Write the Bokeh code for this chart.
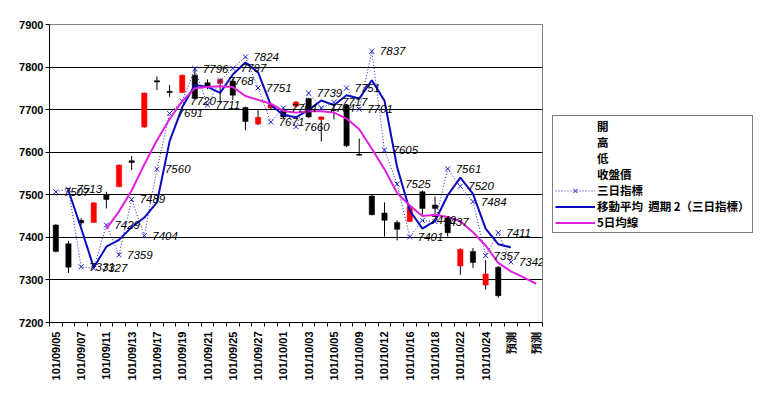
import numpy as np
from bokeh.plotting import figure
from bokeh.layouts import row
from bokeh.models import ColumnDataSource, FixedTicker, Legend, LegendItem, Range1d
from bokeh.core.properties import value
from bokeh.embed import file_html
from bokeh.resources import INLINE

# ---------------- data ----------------
dates = ["101/09/05", "101/09/06", "101/09/07", "101/09/10", "101/09/11", "101/09/12",
         "101/09/13", "101/09/14", "101/09/17", "101/09/18", "101/09/19", "101/09/20",
         "101/09/21", "101/09/24", "101/09/25", "101/09/26", "101/09/27", "101/09/28",
         "101/10/01", "101/10/02", "101/10/03", "101/10/04", "101/10/05", "101/10/08",
         "101/10/09", "101/10/11", "101/10/12", "101/10/15", "101/10/16", "101/10/17",
         "101/10/18", "101/10/19", "101/10/22", "101/10/23", "101/10/24", "101/10/25",
         "預測", "預測", "預測"]

opens = [7429, 7385, 7440, 7435, 7501, 7519, 7580, 7659, 7768, 7743, 7740, 7781,
         7763, 7762, 7767, 7705, 7666, 7704, 7699, 7708, 7726, 7677, 7700, 7711,
         7595, 7497, 7457, 7435, 7437, 7507, 7476, 7445, 7333, 7367, 7288, 7330]
highs = [7431, 7392, 7445, 7482, 7507, 7571, 7591, 7740, 7778, 7758, 7782, 7797,
         7771, 7773, 7773, 7707, 7701, 7716, 7702, 7720, 7728, 7684, 7714, 7713,
         7632, 7500, 7482, 7440, 7475, 7510, 7496, 7447, 7374, 7375, 7347, 7332]
lows = [7365, 7316, 7428, 7434, 7468, 7518, 7558, 7658, 7746, 7730, 7739, 7724,
        7748, 7715, 7722, 7652, 7664, 7700, 7680, 7705, 7680, 7625, 7677, 7612,
        7592, 7452, 7402, 7393, 7436, 7453, 7449, 7402, 7312, 7328, 7277, 7258]
closes = [7367, 7330, 7434, 7481, 7489, 7570, 7576, 7739, 7765, 7740, 7781, 7726,
          7755, 7771, 7734, 7672, 7682, 7712, 7683, 7718, 7683, 7683, 7698, 7615,
          7593, 7453, 7440, 7419, 7472, 7468, 7468, 7411, 7372, 7341, 7314, 7263]

# 三日指標 (categories 1..37)
ind3 = [7507, 7513, 7331, 7327, 7429, 7359, 7489, 7404, 7560, 7691, 7720, 7796,
        7711, 7768, 7797, 7824, 7751, 7671, 7704, 7660, 7739, 7704, 7717, 7751,
        7701, 7837, 7605, 7525, 7401, 7440, 7437, 7561, 7520, 7484, 7357, 7411, 7342]

# 移動平均 週期 2 (三日指標) (categories 2..37)
ma2 = [7510, 7422, 7329, 7378, 7394, 7424, 7446.5, 7482, 7625.5, 7705.5, 7758,
       7753.5, 7739.5, 7782.5, 7810.5, 7787.5, 7711, 7687.5, 7682, 7699.5, 7721.5,
       7710.5, 7734, 7726, 7769, 7721, 7565, 7463, 7420.5, 7438.5, 7499, 7540.5,
       7502, 7420.5, 7384, 7376.5]

# 5日均線 (categories 5..39)
ma5 = [7420, 7461, 7510, 7571, 7628, 7678, 7720, 7750, 7753, 7755, 7753, 7732,
       7723, 7714, 7697, 7693, 7696, 7696, 7693, 7679, 7654, 7608, 7560, 7504,
       7475, 7450, 7453, 7448, 7438, 7412, 7381, 7340, 7320, 7306, 7291]

y_ticks = [7200, 7300, 7400, 7500, 7600, 7700, 7800, 7900]

legend_labels = ["開", "高", "低", "收盤價", "三日指標",
                 "移動平均  週期 2（三日指標）", "5日均線"]

# styles
IND_COLOR = "#2020D0"
MA2_COLOR = "#0A0ABE"
MA5_COLOR = "#E020E0"

# ---------------- main figure ----------------
n = len(dates)
p = figure(width=543, height=398, output_backend="svg", toolbar_location=None,
           x_range=Range1d(0.5, n + 0.5), y_range=Range1d(y_ticks[0], y_ticks[-1]),
           min_border_left=49, min_border_right=1, min_border_top=24,
           min_border_bottom=76)
p.background_fill_color = "white"
p.border_fill_color = "white"
p.outline_line_color = "#808080"
p.outline_line_width = 1

p.xgrid.visible = False
p.ygrid.ticker = FixedTicker(ticks=y_ticks[1:-1])
p.ygrid.grid_line_color = "black"
p.ygrid.grid_line_width = 1

p.yaxis.ticker = FixedTicker(ticks=y_ticks)
p.yaxis.axis_line_color = "black"
p.yaxis.major_tick_in = 0
p.yaxis.major_tick_out = 4
p.yaxis.minor_tick_line_color = None
p.yaxis.major_label_text_font = "Liberation Sans"
p.yaxis.major_label_text_font_style = "bold"
p.yaxis.major_label_text_font_size = "11px"
p.yaxis.major_label_text_color = "black"
p.yaxis.major_label_standoff = 2

label_pos = list(range(1, n + 1, 2))
p.xaxis.ticker = FixedTicker(ticks=label_pos,
                             minor_ticks=[i + 0.5 for i in range(0, n + 1)])
p.xaxis.major_label_overrides = {i: dates[i - 1] for i in label_pos}
p.xaxis.major_label_orientation = np.pi / 2
p.xaxis.axis_line_color = "black"
p.xaxis.major_tick_line_color = None
p.xaxis.major_tick_in = 0
p.xaxis.major_tick_out = 0
p.xaxis.minor_tick_in = 0
p.xaxis.minor_tick_out = 4
p.xaxis.minor_tick_line_color = "black"
p.xaxis.major_label_text_font = "Liberation Sans"
p.xaxis.major_label_text_font_style = "bold"
p.xaxis.major_label_text_font_size = "11px"
p.xaxis.major_label_text_color = "black"
p.xaxis.major_label_standoff = 5

# candles
xc = list(range(1, len(opens) + 1))
cs = ColumnDataSource(dict(
    x=xc, o=opens, h=highs, l=lows, c=closes,
    top=[max(a, b) for a, b in zip(opens, closes)],
    bot=[min(a, b) for a, b in zip(opens, closes)],
    col=["#FF0000" if c > o else "black" for o, c in zip(opens, closes)],
))
p.segment(x0="x", y0="h", x1="x", y1="l", source=cs, line_color="black", line_width=1)
p.vbar(x="x", top="top", bottom="bot", width=0.42, source=cs,
       fill_color="col", line_color="col", line_width=0.5)

# lines
x_ind = list(range(1, len(ind3) + 1))
p.line(x_ind, ind3, line_color=IND_COLOR, line_width=1, line_dash="1 2")
p.scatter(x_ind, ind3, marker="x", size=7, line_color=IND_COLOR, line_width=1)

x_ma2 = list(range(2, 2 + len(ma2)))
p.line(x_ma2, ma2, line_color=MA2_COLOR, line_width=2)

x_ma5 = list(range(5, 5 + len(ma5)))
p.line(x_ma5, ma5, line_color=MA5_COLOR, line_width=2)

p.text(x=x_ind, y=ind3, text=[str(v) for v in ind3], x_offset=8,
       text_baseline="middle", text_align="left", text_color="black",
       text_font=value("Liberation Sans"), text_font_style="italic",
       text_font_size="11.5px")

# ---------------- legend figure (frame aligned with main figure) ----------------
q = figure(width=228, height=398, output_backend="svg", toolbar_location=None,
           x_axis_type=None, y_axis_type=None,
           x_range=Range1d(0, 1), y_range=Range1d(0, 1),
           min_border_left=0, min_border_right=0, min_border_top=24,
           min_border_bottom=76)
q.outline_line_color = None
q.background_fill_color = "white"
q.border_fill_color = "white"
q.xgrid.visible = False
q.ygrid.visible = False

# legend-only renderers, placed outside the visible range
d_blank = [q.line([5, 6], [5, 6], line_alpha=0) for _ in range(4)]
d_ind_l = q.line([5, 6], [5, 6], line_color=IND_COLOR, line_width=1, line_dash="1 2")
d_ind_p = q.scatter([5], [5], marker="x", size=7, line_color=IND_COLOR, line_width=1)
d_ma2 = q.line([5, 6], [5, 6], line_color=MA2_COLOR, line_width=2)
d_ma5 = q.line([5, 6], [5, 6], line_color=MA5_COLOR, line_width=2)

rends = [[d_blank[0]], [d_blank[1]], [d_blank[2]], [d_blank[3]],
         [d_ind_l, d_ind_p], [d_ma2], [d_ma5]]
legend = Legend(items=[LegendItem(label=lab, renderers=r)
                       for lab, r in zip(legend_labels, rends)],
                location=(9, 89))
legend.border_line_color = "black"
legend.border_line_width = 1
legend.background_fill_color = "white"
legend.background_fill_alpha = 1
legend.label_text_font = "Noto Sans CJK TC"
legend.label_text_font_style = "bold"
legend.label_text_font_size = "11.5px"
legend.label_text_color = "black"
legend.glyph_width = 40
legend.glyph_height = 15
legend.label_height = 15
legend.label_standoff = 2
legend.spacing = 0
legend.padding = 2
legend.margin = 0
q.add_layout(legend)

layout = row(p, q, spacing=0)
open("out.html", "w").write(file_html(layout, INLINE))
